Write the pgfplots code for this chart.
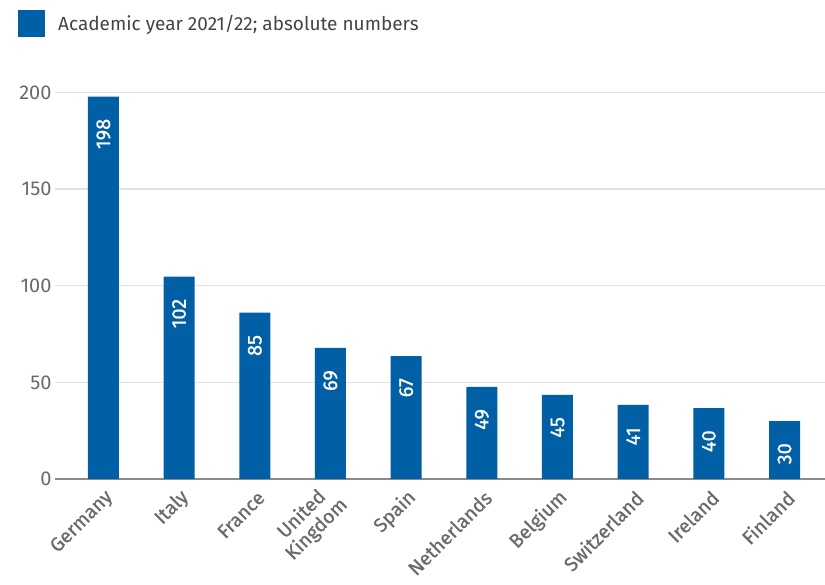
\documentclass[border=0pt]{standalone}
\usepackage{fontspec}
\setmainfont{Fira Sans}
\newfontfamily\semib[FakeBold=0.8]{Fira Sans}
\usepackage{pgfplots}
\pgfplotsset{compat=1.18}
\usepackage{pgfplotstable}

\definecolor{barblue}{HTML}{005FA5}
\definecolor{gridgray}{HTML}{E2E2E2}
\definecolor{axisgray}{HTML}{8A8A8A}
\definecolor{tickgray}{HTML}{6A6A6A}
\definecolor{textgray}{HTML}{444444}

% bar heights as drawn, label as printed
\pgfplotstableread{
x h lab
0 197.8 198
1 104.7 102
2 86.0 85
3 67.8 69
4 63.6 67
5 47.7 49
6 43.5 45
7 38.3 41
8 36.7 40
9 30.0 30
}\students

\begin{document}
\begin{tikzpicture}
\useasboundingbox (0,0) rectangle (825bp,585bp);
\begin{axis}[
    at={(55bp,106bp)}, anchor=south west,
    scale only axis,
    width=770bp, height=396.3bp,
    xmin=-0.64, xmax=9.535,
    ymin=0, ymax=205,
    ytick={0,50,...,200},
    xtick={0,...,9},
    xticklabels={Germany,Italy,France,{United\\Kingdom},Spain,Netherlands,Belgium,Switzerland,Ireland,Finland},
    major tick length=0pt,
    axis lines*=left,
    axis line style={-},
    y axis line style={draw=none},
    x axis line style={draw=axisgray, line width=2bp},
    ymajorgrids,
    grid style={draw=gridgray, line width=1.4bp},
    /pgf/number format/assume math mode=true,
    yticklabel style={font=\fontsize{20bp}{22bp}\selectfont, text=tickgray},
    xticklabel style={font=\semib\fontsize{19.5bp}{21bp}\selectfont, text=tickgray,
        xshift=9bp, yshift=-13bp, rotate=45, anchor=east, align=center},
    legend style={at={(axis description cs:-0.048,1.149)}, anchor=west,
        draw=none, fill=none, inner sep=0pt,
        /tikz/every odd column/.append style={column sep=11bp},
        font=\fontsize{19bp}{22bp}\selectfont, text=textgray},
    legend image code/.code={\fill[barblue] (0bp,-13.5bp) rectangle (27bp,13.5bp);},
    clip=false,
]
\addplot[ybar, bar width=31bp, fill=barblue, draw=none,
    point meta=explicit symbolic,
    nodes near coords,
    nodes near coords style={font=\semib\fontsize{20bp}{22bp}\selectfont, text=white,
        inner sep=0pt, anchor=east, rotate=90, xshift=-22bp},
] table[x=x, y=h, meta=lab] {\students};
\addlegendentry{Academic year 2021/22; absolute numbers}
\end{axis}
\end{tikzpicture}
\end{document}
